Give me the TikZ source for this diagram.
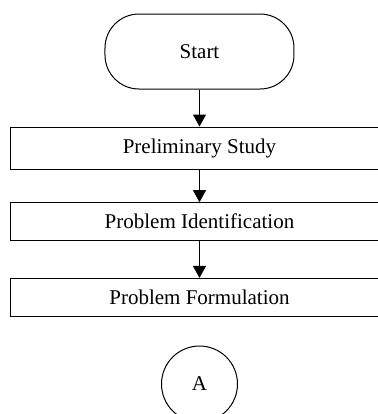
\documentclass[tikz,border=0pt]{standalone}
\usepackage{fontspec}
\setmainfont{Liberation Serif}
\usepackage{tikz}
\usetikzlibrary{positioning}
\usetikzlibrary{calc,arrows.meta}

\tikzset{
  termbox/.style={draw, line width=0.5pt, rounded corners=17pt, minimum width=94.5pt, minimum height=37.5pt, inner sep=0pt},
  stepbox/.style={draw, line width=0.5pt, minimum width=188.5pt, inner sep=0pt},
  connbox/.style={draw, line width=0.5pt, circle, minimum size=38pt, inner sep=0pt},
  flow/.style={line width=0.5pt, -{Triangle[width=6.5pt,length=6pt]}}
}

\begin{document}
\begin{tikzpicture}[x=1pt,y=1pt,font=\fontsize{10.5}{12.6}\selectfont]
  % Define the page and the centre line
  \def\pageW{189}
  \def\pageH{207}
  \def\midX{99.75}

  \useasboundingbox (0,0) rectangle (\pageW,-\pageH);
  \clip (0,0) rectangle (\pageW,-\pageH);

  % the terminal
  \node[termbox] (start) at (\midX,-25.75) {Start};

  % the steps (they run past the right edge)
  \node[stepbox, minimum height=21pt] (study) at (\midX,-74) {Preliminary Study};
  \node[stepbox, minimum height=18.8pt] (ident) at (\midX,-110.75) {Problem Identification};
  \node[stepbox, minimum height=18.8pt] (formul) at (\midX,-148.6) {Problem Formulation};

  % off-page connector
  \node[connbox] (conA) at (\midX,-192) {A};

  % arrows between the steps
  \draw [flow] (start.south) -- (study.north);
  \draw [flow] (study.south) -- (ident.north);
  \draw [flow] (ident.south) -- (formul.north);

\end{tikzpicture}
\end{document}
